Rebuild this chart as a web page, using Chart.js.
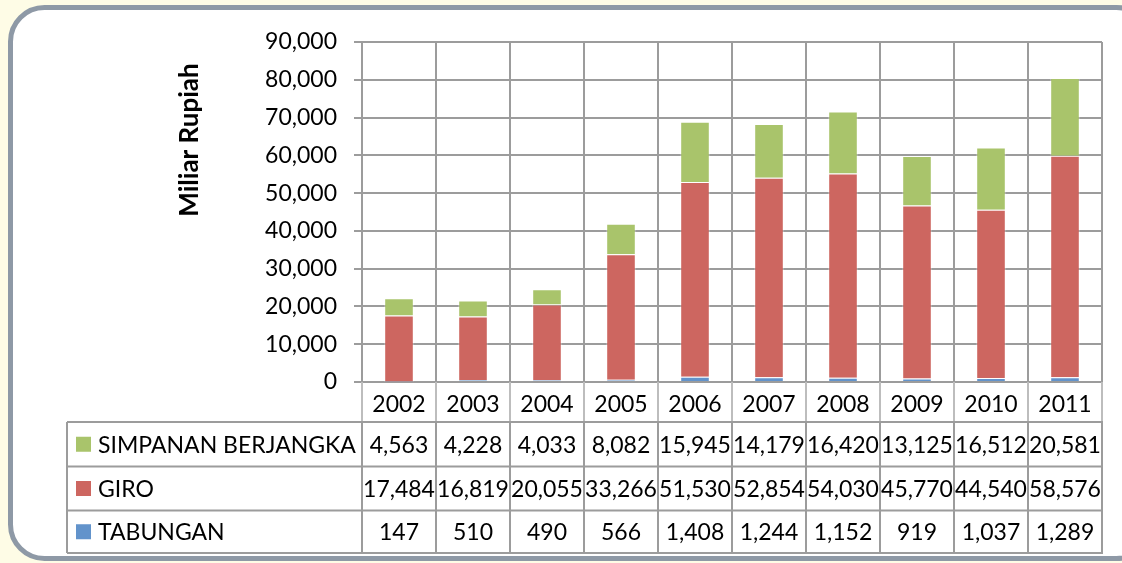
<!DOCTYPE html>
<html>
<head>
<meta charset="utf-8">
<script src="https://cdn.jsdelivr.net/npm/chart.js@4.4.1/dist/chart.umd.min.js"></script>
<style>
html,body{margin:0;padding:0;background:#FEFCE6;}
#wrap{width:1122px;height:563px;position:relative;}
</style>
</head>
<body>
<div id="wrap"><canvas id="c" width="1122" height="563"></canvas></div>
<script>
const years = ['2002','2003','2004','2005','2006','2007','2008','2009','2010','2011'];
const tabungan = [147,510,490,566,1408,1244,1152,919,1037,1289];
const giro = [17484,16819,20055,33266,51530,52854,54030,45770,44540,58576];
const simpanan = [4563,4228,4033,8082,15945,14179,16420,13125,16512,20581];
const seriesNames = ['TABUNGAN','GIRO','SIMPANAN BERJANGKA'];
const yTitle = 'Miliar Rupiah';

const FONT = 'Lato, "Liberation Sans", sans-serif';
const GRID = '#9C9C9C';

const panelPlugin = {
  id: 'panel',
  beforeDraw(chart) {
    const ctx = chart.ctx;
    ctx.save();
    ctx.fillStyle = '#FEFCE6';
    ctx.fillRect(0, 0, chart.width, chart.height);
    const x = 10.5, y = 7.5, w = 1140, h = 551, r = 34;
    ctx.beginPath();
    ctx.moveTo(x + r, y);
    ctx.lineTo(x + w - r, y);
    ctx.arcTo(x + w, y, x + w, y + r, r);
    ctx.lineTo(x + w, y + h - r);
    ctx.arcTo(x + w, y + h, x + w - r, y + h, r);
    ctx.lineTo(x + r, y + h);
    ctx.arcTo(x, y + h, x, y + h - r, r);
    ctx.lineTo(x, y + r);
    ctx.arcTo(x, y, x + r, y, r);
    ctx.closePath();
    ctx.fillStyle = '#FFFFFF';
    ctx.fill();
    ctx.lineWidth = 5;
    ctx.strokeStyle = '#8E99A6';
    ctx.stroke();
    ctx.restore();
  }
};

const tablePlugin = {
  id: 'dataTable',
  afterDraw(chart) {
    const ctx = chart.ctx;
    const xs = chart.scales.x;
    const area = chart.chartArea;
    const n = years.length;
    const colW = (area.right - area.left) / n;
    const tableLeft = 67;
    const rowsY = [422, 466.5, 510.5, 553];
    ctx.save();
    ctx.strokeStyle = '#BDBDBD';
    ctx.lineWidth = 2;
    for (let i = 0; i <= n; i++) {
      const xx = Math.round(area.left + i * colW);
      ctx.beginPath();
      ctx.moveTo(xx, area.bottom);
      ctx.lineTo(xx, rowsY[0]);
      ctx.stroke();
    }
    ctx.strokeStyle = GRID;
    rowsY.forEach(yy => {
      ctx.beginPath();
      ctx.moveTo(tableLeft, yy);
      ctx.lineTo(area.right + 1, yy);
      ctx.stroke();
    });
    const vx = [tableLeft];
    for (let i = 0; i <= n; i++) vx.push(Math.round(area.left + i * colW));
    vx.forEach(xx => {
      ctx.beginPath();
      ctx.moveTo(xx, rowsY[0]);
      ctx.lineTo(xx, rowsY[3]);
      ctx.stroke();
    });
    const ds = chart.data.datasets.slice().reverse();
    ctx.font = '23px ' + FONT;
    ctx.fillStyle = '#000';
    ctx.textBaseline = 'middle';
    ds.forEach((d, r) => {
      const cy = (rowsY[r] + rowsY[r + 1]) / 2;
      ctx.fillStyle = d.backgroundColor;
      ctx.fillRect(76, cy - 7.5, 15, 15);
      ctx.fillStyle = '#000';
      ctx.textAlign = 'left';
      ctx.fillText(d.label, 98, cy + 1);
      ctx.textAlign = 'center';
      d.data.forEach((v, i) => {
        ctx.fillText(v.toLocaleString('en-US'), xs.getPixelForValue(i), cy + 1);
      });
    });
    ctx.save();
    ctx.translate(190, 140);
    ctx.rotate(-Math.PI / 2);
    ctx.font = 'bold 26px ' + FONT;
    ctx.textAlign = 'center';
    ctx.textBaseline = 'middle';
    ctx.fillText(yTitle, 0, 0);
    ctx.restore();
    ctx.restore();
  }
};

new Chart(document.getElementById('c'), {
  type: 'bar',
  data: {
    labels: years,
    datasets: [
      { label: seriesNames[0], data: tabungan, backgroundColor: '#6293CB', borderColor: 'rgba(255,255,255,0.35)', borderWidth: 1 },
      { label: seriesNames[1], data: giro, backgroundColor: '#CD6660', borderColor: 'rgba(255,255,255,0.35)', borderWidth: 1 },
      { label: seriesNames[2], data: simpanan, backgroundColor: '#A9C46B', borderColor: 'rgba(255,255,255,0.35)', borderWidth: 1 }
    ]
  },
  options: {
    responsive: false,
    animation: false,
    locale: 'en-US',
    layout: { padding: { left: 0, top: 42, right: 20, bottom: 141 } },
    datasets: { bar: { categoryPercentage: 0.8, barPercentage: 0.5 } },
    plugins: { legend: { display: false }, tooltip: { enabled: false } },
    scales: {
      x: {
        stacked: true,
        grid: { color: GRID, lineWidth: 2, drawTicks: false, offset: true },
        border: { color: GRID, width: 2 },
        ticks: { color: '#000', font: { family: FONT, size: 23 }, padding: 9, maxRotation: 0 },
        afterFit(s) { s.height = 40; }
      },
      y: {
        stacked: true,
        min: 0, max: 90000,
        ticks: { stepSize: 10000, color: '#000', font: { family: FONT, size: 23 }, padding: 17 },
        grid: { color: GRID, lineWidth: 2, tickLength: 8 },
        border: { color: GRID, width: 2 },
        afterFit(s) { s.width = 362; }
      }
    }
  },
  plugins: [panelPlugin, tablePlugin]
});
</script>
</body>
</html>
